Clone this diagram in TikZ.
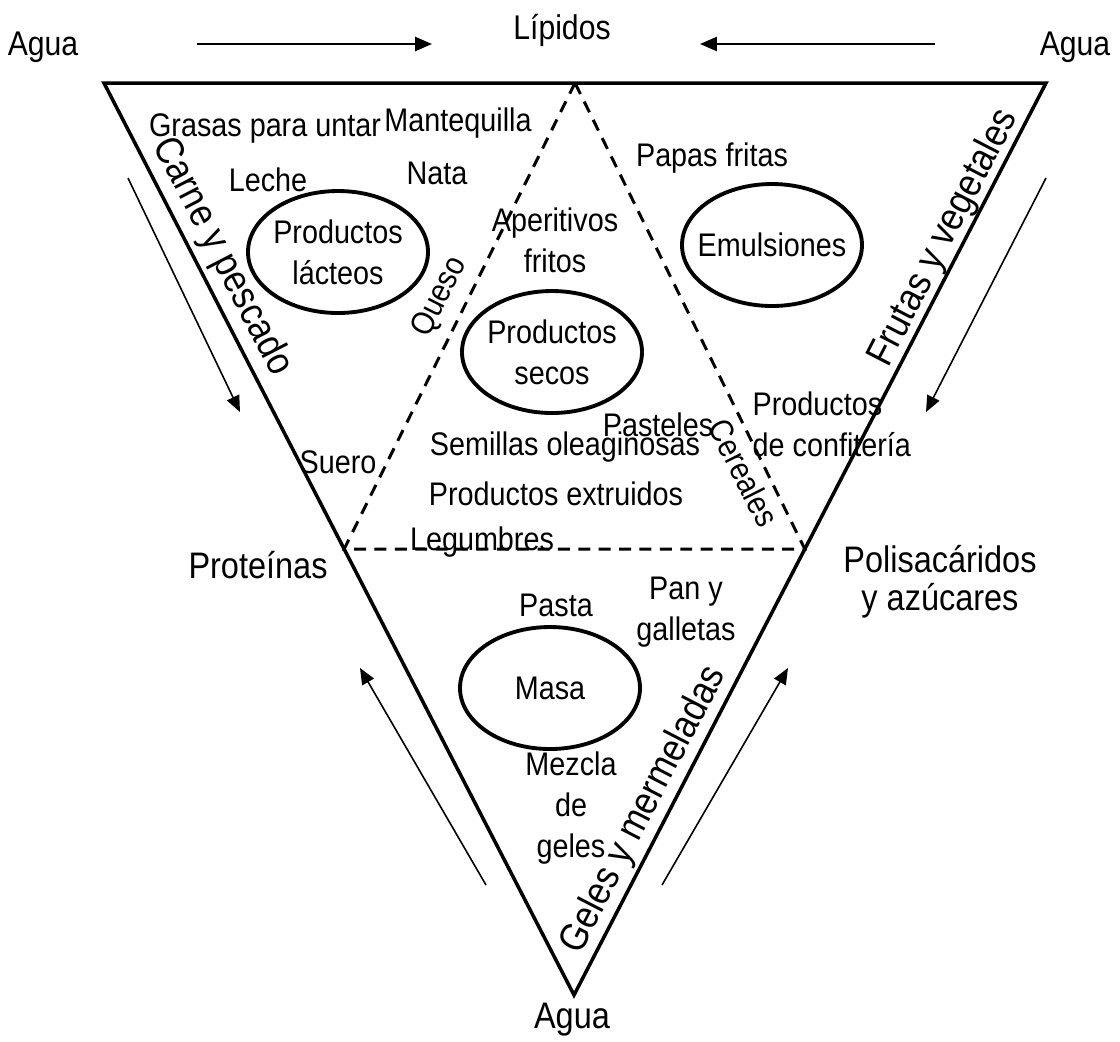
\documentclass[tikz,border=0pt]{standalone}
\usepackage{fontspec}
\setmainfont{Liberation Sans}[FakeStretch=0.88]
\usetikzlibrary{arrows.meta,shapes.geometric,calc}

\begin{document}
\begin{tikzpicture}[
    lbl/.style={font=\fontsize{9.3}{11.6}\selectfont, inner sep=0pt, align=center},
    mid/.style={font=\fontsize{9.75}{11.6}\selectfont, inner sep=0pt},
    big/.style={font=\fontsize{10.5}{10.8}\selectfont, inner sep=0pt, align=center},
    lado/.style={font=\fontsize{11.2}{12}\selectfont, inner sep=0pt},
    grupo/.style={draw, ellipse, line width=1.1pt, minimum width=1.8cm, minimum height=1.22cm,
                  inner sep=0pt},
    borde/.style={line width=1pt, line join=miter},
    zona/.style={line width=0.85pt, dash pattern=on 3.4pt off 2.4pt},
    flecha/.style={line width=0.45pt, -{Triangle[length=4.6pt,width=3.8pt]}},
    flechah/.style={line width=0.6pt, -{Triangle[length=4.8pt,width=4pt]}}
]

    \useasboundingbox (0,0) rectangle (11.2,-10.41);

    % Outer triangle (corners)
    \coordinate (tl) at (1.04,-0.83);
    \coordinate (tr) at (10.46,-0.83);
    \coordinate (bt) at (5.74,-9.95);
    \draw[borde] (tl) -- (tr) -- (bt) -- cycle;

    % Inner dashed triangle
    \coordinate (itop) at ($(tl)!0.5!(tr)$);
    \coordinate (ibl) at ($(tl)!0.511!(bt)$);
    \coordinate (ibr) at ($(tr)!0.511!(bt)$);
    \draw[zona] (itop) -- (ibl) -- (ibr) -- cycle;

    % Corner labels
    \node[mid] (aguaizq) at (0.43,-0.47) {Agua};
    \node[mid] (aguader) at (10.75,-0.47) {Agua};
    \node[mid] (lipidos) at (5.62,-0.30) {Lípidos};
    \node[big] (aguaabj) at (5.72,-10.20) {Agua};
    \node[big] (proteinas) at (2.58,-5.65) {Proteínas};
    \node[big] (polisac) at (9.40,-5.82) {Polisacáridos\\y azúcares};

    % Arrows round the triangle
    \coordinate (a1) at (1.97,-0.44);
    \coordinate (a2) at (4.32,-0.44);
    \coordinate (b1) at (9.35,-0.44);
    \coordinate (b2) at (7.00,-0.44);
    \draw[flechah] (a1) -- (a2);
    \draw[flechah] (b1) -- (b2);

    \coordinate (c1) at (1.28,-1.78);
    \coordinate (c2) at (2.40,-4.12);
    \coordinate (d1) at (10.46,-1.78);
    \coordinate (d2) at (9.26,-4.12);
    \draw[flecha] (c1) -- (c2);
    \draw[flecha] (d1) -- (d2);

    \coordinate (e1) at (4.86,-8.85);
    \coordinate (e2) at (3.60,-6.68);
    \coordinate (f1) at (6.62,-8.85);
    \coordinate (f2) at (7.88,-6.68);
    \draw[flecha] (e1) -- (e2);
    \draw[flecha] (f1) -- (f2);

    % Labels along the edges
    \node[lado, rotate=-62.7] (carne) at (2.22,-2.57) {Carne y pescado};
    \node[lado, rotate=62.7] (frutas) at (9.44,-2.38) {Frutas y vegetales};
    \node[lado, rotate=62.7] (geles) at (6.44,-8.10) {Geles y mermeladas};
    \node[lbl, rotate=63.2] (queso) at (4.40,-2.97) {Queso};
    \node[lbl, rotate=-63.2] (cereales) at (7.44,-4.73) {Cereales};

    % Groups (ellipses)
    \node[grupo, label={[lbl]center:Productos\\lácteos}] (lacteos) at (3.38,-2.52) {};
    \node[grupo, label={[lbl]center:Emulsiones}] (emulsiones) at (7.72,-2.45) {};
    \node[grupo, label={[lbl]center:Productos\\secos}] (secos) at (5.52,-3.52) {};
    \node[grupo, label={[lbl]center:Masa}] (masa) at (5.50,-6.88) {};

    % Foods
    \node[lbl] (grasas) at (2.65,-1.28) {Grasas para untar};
    \node[lbl] (mantequilla) at (4.58,-1.23) {Mantequilla};
    \node[lbl] (leche) at (2.68,-1.80) {Leche};
    \node[lbl] (nata) at (4.37,-1.73) {Nata};
    \node[lbl] (papas) at (7.12,-1.58) {Papas fritas};
    \node[lbl] (aperitivos) at (5.55,-2.40) {Aperitivos\\fritos};
    \node[lbl] (suero) at (3.38,-4.62) {Suero};
    \node[lbl] (pasteles) at (6.58,-4.25) {Pasteles};
    \node[lbl] (semillas) at (5.65,-4.47) {Semillas oleaginosas};
    \node[lbl] (extruidos) at (5.56,-4.94) {Productos extruidos};
    \node[lbl, anchor=base] (legumbres) at (4.82,-5.50) {Legumbres};
    \node[lbl, anchor=west, align=left] (confiteria) at (7.52,-4.24) {Productos\\de confitería};
    \node[lbl] (pasta) at (5.56,-6.05) {Pasta};
    \node[lbl] (pan) at (6.86,-6.12) {Pan y\\galletas};
    \node[lbl] (mezcla) at (5.71,-8.08) {Mezcla\\de\\geles};

\end{tikzpicture}
\end{document}
